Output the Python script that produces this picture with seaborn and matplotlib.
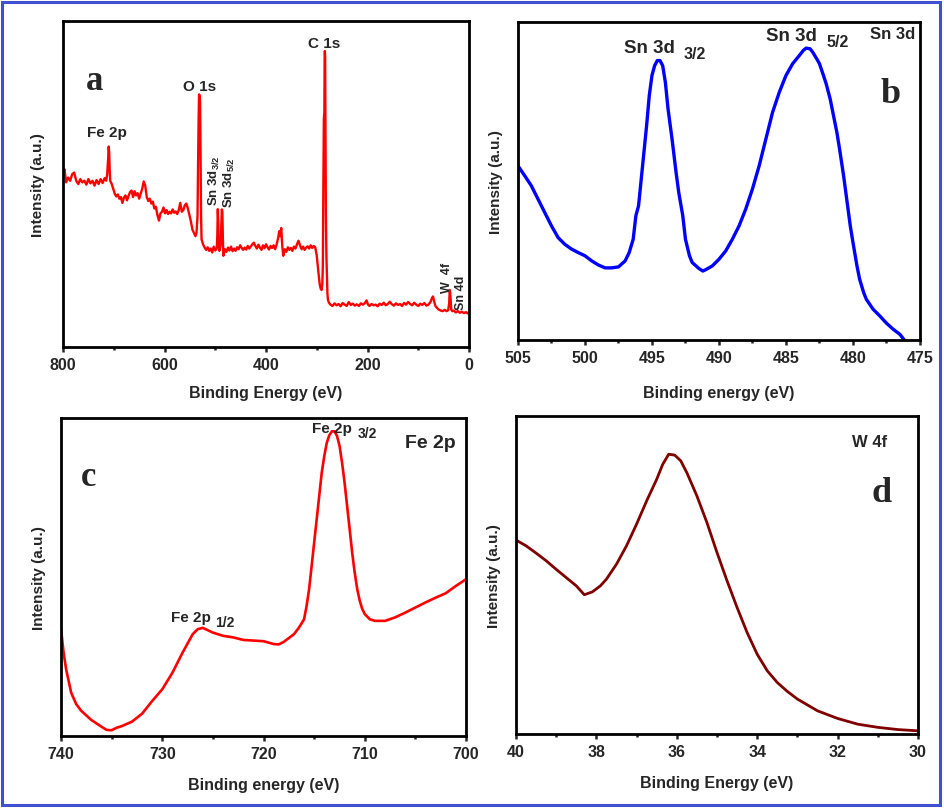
import numpy as np
import pandas as pd
import seaborn as sns
import matplotlib.pyplot as plt
from matplotlib.patches import Rectangle
from matplotlib.ticker import MultipleLocator

# ---- (a) survey spectrum, intensity in % of axis height ----
survey_be = ([800, 797, 794, 790, 786, 782, 778, 774, 770, 766, 762, 758, 754, 750, 746, 742, 738, 734, 730, 726, 722, 718, 715, 713]
             + [711, 710, 709, 708, 707]
             + [704, 701, 698, 695, 692, 689, 686, 683, 680, 677, 674, 671, 668, 665, 662, 659, 656, 653, 650, 647,
                644, 641, 638, 635, 632, 629, 626, 623, 620, 617, 614, 611, 608]
             + [605, 602, 599, 596, 593, 590, 587, 584, 581, 578, 575, 572, 569, 566, 563, 560, 557, 554, 551, 548]
             + [545, 542, 539, 537, 535, 534, 533]
             + [532, 531, 530, 529, 528, 527]
             + [524, 521, 518, 515, 512, 509, 506, 503, 500, 498]
             + [497, 496, 495, 494, 493, 492, 491, 490, 489, 488, 487, 486, 485, 484]
             + [481, 478, 475, 472, 469, 466, 463, 460, 457, 454, 451, 448, 445, 442, 439, 436, 433, 430, 427, 424,
                421, 418, 415, 412, 409, 406, 403, 400, 397, 394, 391, 388, 385, 382, 379]
             + [376, 374, 372, 370, 368, 366]
             + [363, 360, 357, 354, 351, 348, 345, 342, 339, 336, 333, 330, 327, 324, 321, 318, 315, 312, 309, 306, 303]
             + [300, 298, 296, 294, 292, 290.5, 289, 288, 287, 286, 285, 284.5, 284, 283.5, 283, 282, 281, 280, 279, 278, 276]
             + [273, 269, 265, 261, 257, 253, 249, 245, 241, 237, 233, 229, 225, 221, 217, 213, 209, 205, 202, 199,
                196, 192, 188, 184, 180, 176, 172, 168, 164, 160, 156, 152, 148, 144, 140, 136, 132, 128, 124, 120,
                116, 112, 108, 104, 100, 96, 92, 88, 84, 80, 76, 73, 71, 69, 66, 63, 60, 56, 52, 48,
                44, 41, 39, 38, 37, 35, 33, 30, 26, 22, 18, 14, 10, 6, 3, 0])
survey_int = ([52.5, 54.5, 50.5, 52.0, 51.0, 53.0, 53.5, 51.0, 50.0, 51.5, 50.5, 51.0, 49.8, 51.5, 50.2, 51.0, 49.5, 51.2, 50.0, 51.5, 50.3, 51.8, 51.0, 53.0]
              + [58.0, 61.5, 59.5, 54.0, 51.0]
              + [50.0, 48.5, 47.0, 46.2, 46.8, 45.5, 46.0, 44.2, 45.8, 46.5, 45.0, 46.3, 47.5, 48.0, 46.0, 47.8, 46.5, 47.2, 45.5, 47.0,
                 48.5, 50.8, 49.5, 46.0, 44.8, 45.5, 44.0, 44.6, 42.5, 43.0, 40.5, 38.8, 41.0]
              + [41.5, 42.8, 41.0, 42.0, 40.8, 41.5, 41.0, 42.2, 41.2, 41.6, 40.8, 42.0, 44.2, 41.5, 42.0, 43.5, 44.0, 42.5, 40.5, 38.5]
              + [36.0, 35.0, 34.0, 35.0, 40.0, 55.0, 68.0]
              + [77.5, 77.2, 75.0, 60.0, 40.0, 33.0]
              + [31.5, 30.5, 29.8, 30.6, 29.5, 30.2, 29.0, 30.8, 29.6, 30.0]
              + [30.5, 34.0, 42.3, 38.0, 31.0, 29.5, 30.2, 30.8, 32.0, 38.0, 42.2, 41.5, 33.0, 28.0]
              + [30.0, 29.2, 30.5, 29.6, 30.8, 29.4, 30.2, 29.5, 30.6, 30.0, 31.2, 30.4, 29.8, 30.5, 29.9, 31.0, 30.2, 30.8, 31.5, 32.0,
                 31.0, 30.2, 31.4, 30.5, 29.8, 31.2, 30.3, 31.5, 30.6, 29.9, 31.0, 30.4, 31.2, 30.0, 31.5]
              + [33.5, 35.5, 34.0, 36.5, 31.0, 28.0]
              + [30.0, 29.2, 30.6, 29.8, 30.4, 29.5, 30.8, 30.2, 31.5, 32.6, 31.2, 30.0, 30.8, 29.8, 30.5, 30.9, 30.2, 31.2, 30.4, 31.0, 30.6]
              + [28.0, 25.0, 21.8, 19.0, 17.8, 17.5, 19.5, 25.0, 50.0, 70.0, 72.0, 88.0, 90.8, 89.0, 70.0, 40.0, 28.0, 22.0, 16.5, 14.5, 13.6]
              + [13.0, 12.6, 13.4, 12.8, 13.2, 12.5, 13.5, 13.0, 12.6, 13.8, 12.9, 13.3, 12.7, 13.1, 12.6, 13.4, 13.0, 13.5, 14.3, 13.0,
                 12.6, 13.2, 12.8, 13.0, 12.5, 13.3, 12.9, 13.6, 12.8, 13.2, 13.9, 13.1, 12.7, 13.4, 12.9, 13.2, 12.6, 13.5, 13.0, 13.8,
                 13.2, 12.8, 13.6, 13.0, 12.6, 13.3, 12.9, 13.5, 12.7, 13.0, 13.8, 15.0, 15.5, 14.2, 12.5, 12.0, 11.5, 11.2, 11.0, 11.4,
                 11.0, 11.3, 13.5, 17.5, 16.5, 11.5, 11.0, 11.2, 10.6, 11.0, 10.5, 10.8, 10.4, 10.7, 10.3, 10.8])
assert len(survey_be) == len(survey_int)

# ---- (b) Sn 3d ----
sn_be = [505, 504.5, 504, 503.5, 503, 502.5, 502, 501.5, 501, 500.5,
         500, 499.5, 499, 498.5, 498, 497.5, 497, 496.7, 496.4, 496.2,
         496, 495.7, 495.4, 495.2, 495, 494.8, 494.6, 494.4, 494.2, 494,
         493.8, 493.5, 493.2, 493, 492.7, 492.5, 492.2, 492, 491.5, 491.2,
         491, 490.5, 490, 489.5, 489, 488.5, 488, 487.5, 487, 486.5,
         486, 485.5, 485, 484.5, 484, 483.7, 483.5, 483.2, 483, 482.7,
         482.5, 482.2, 482, 481.7, 481.5, 481.2, 481, 480.7, 480.5, 480.2,
         480, 479.7, 479.5, 479.2, 479, 478.5, 478, 477.5, 477, 476.5,
         476.2]
sn_int = [54.8, 51.7, 48.5, 44.3, 40.1, 35.9, 32.2, 30.1, 28.6, 27.5,
          26.5, 24.9, 23.6, 22.7, 22.7, 23.0, 24.9, 27.5, 31.7, 39.1,
          42.2, 54.8, 67.4, 76.9, 83.2, 86.3, 87.9, 87.9, 86.3, 81.1,
          72.7, 63.2, 52.7, 46.4, 39.1, 31.7, 26.5, 24.4, 22.5, 21.7,
          22.1, 23.3, 25.4, 28.0, 31.7, 35.9, 41.2, 47.5, 54.8, 63.2,
          71.6, 77.9, 83.2, 86.9, 89.5, 91.1, 91.8, 91.6, 90.5, 88.4,
          86.9, 83.2, 80.6, 75.8, 71.6, 65.3, 60.1, 51.7, 45.4, 35.9,
          30.7, 23.3, 19.1, 14.9, 12.8, 9.7, 7.6, 5.3, 3.4, 1.8,
          0.2]

# ---- (c) Fe 2p ----
fe_be = [740, 739.75, 739.5, 739, 738.5, 738, 737, 736, 735.5, 735,
         734.5, 734, 733, 732, 731, 730, 729, 728, 727, 726.5,
         726, 725, 724, 723, 722, 721, 720, 719, 718.5, 718,
         717, 716.5, 716, 715.75, 715.5, 715.25, 715, 714.75, 714.5, 714.25,
         714, 713.75, 713.5, 713.25, 713, 712.75, 712.5, 712.25, 712, 711.75,
         711.5, 711.25, 711, 710.75, 710.5, 710.25, 710, 709.5, 709, 708,
         707, 706, 705, 704, 703, 702, 701, 700]
fe_int = [33.6, 26.2, 21.0, 13.6, 10.0, 7.9, 5.0, 2.9, 1.9, 1.8,
          2.6, 3.1, 4.5, 7.0, 11.0, 14.7, 19.9, 26.2, 32.0, 33.6,
          34.0, 32.5, 31.5, 31.0, 30.2, 30.0, 29.8, 28.9, 28.8, 29.6,
          32.0, 34.1, 36.7, 40.9, 46.2, 53.5, 60.9, 68.2, 75.6, 82.9,
          88.1, 92.3, 94.6, 95.8, 95.8, 94.4, 91.3, 86.0, 79.7, 72.4,
          65.1, 57.7, 51.4, 46.2, 42.5, 39.9, 38.3, 36.7, 36.2, 36.2,
          37.3, 38.8, 40.4, 42.0, 43.5, 44.9, 47.2, 49.3]

# ---- (d) W 4f ----
w_be = [40, 39.75, 39.5, 39.25, 39, 38.75, 38.5, 38.3, 38.1, 37.9,
        37.75, 37.5, 37.25, 37, 36.75, 36.5, 36.35, 36.2, 36.05, 35.9,
        35.75, 35.5, 35.25, 35, 34.75, 34.5, 34.25, 34, 33.75, 33.5,
        33.25, 33, 32.5, 32, 31.5, 31, 30.5, 30]
w_int = [61.0, 59.2, 56.9, 54.5, 51.8, 49.2, 46.6, 43.8, 44.7, 46.6,
         48.7, 53.4, 59.2, 66.0, 73.3, 80.1, 84.8, 88.0, 87.7, 85.9,
         82.2, 74.9, 66.5, 57.1, 48.2, 39.8, 31.9, 25.1, 19.9, 16.2,
         13.4, 11.0, 7.3, 4.9, 3.1, 2.1, 1.4, 1.0]

sns.set_style("ticks")
plt.rcParams['font.family'] = ['Liberation Sans', 'DejaVu Sans']
plt.rcParams['font.weight'] = 'bold'
plt.rcParams['mathtext.fontset'] = 'custom'
plt.rcParams['mathtext.rm'] = 'Liberation Sans:bold'
plt.rcParams['mathtext.bf'] = 'Liberation Sans:bold'
plt.rcParams['mathtext.default'] = 'bf'

fig = plt.figure(figsize=(9.45, 8.12), dpi=100)
fig.patch.set_facecolor('white')

ax_a = fig.add_axes([0.0667, 0.5714, 0.4296, 0.4015])
ax_b = fig.add_axes([0.5481, 0.5800, 0.4254, 0.3916])
ax_c = fig.add_axes([0.0646, 0.0924, 0.4286, 0.3916])
ax_d = fig.add_axes([0.5460, 0.0948, 0.4254, 0.3916])

panels = [
    (ax_a, survey_be, survey_int, '#ff0000', 1.7, (800, 0), 200, 100, "Binding Energy (eV)", 9, 13),
    (ax_b, sn_be, sn_int, '#0000ff', 2.4, (505, 475), 5, 2.5, "Binding energy (eV)", 14, 11),
    (ax_c, fe_be, fe_int, '#ff0000', 1.9, (740, 700), 10, 5, "Binding energy (eV)", 11, 11),
    (ax_d, w_be, w_int, '#800000', 2.0, (40, 30), 2, 1, "Binding Energy (eV)", 11, 11),
]

for ax, xs, ys, col, lw, xl, maj, mnr, xlab, xpad, ypad in panels:
    df = pd.DataFrame({"be": xs, "inten": ys})
    sns.lineplot(data=df, x="be", y="inten", ax=ax, color=col, linewidth=lw, estimator=None)
    ax.set_xlim(*xl)
    ax.set_ylim(0, 100)
    ax.xaxis.set_major_locator(MultipleLocator(maj))
    ax.xaxis.set_minor_locator(MultipleLocator(mnr))
    ax.tick_params(axis='x', which='major', direction='out', length=3.5, width=1.8,
                   labelsize=11.5, pad=4)
    ax.tick_params(axis='x', which='minor', direction='out', length=2, width=1.8)
    ax.tick_params(axis='y', left=False, labelleft=False)
    for lab in ax.get_xticklabels():
        lab.set_fontweight('bold')
    for sp in ax.spines.values():
        sp.set_linewidth(2.0)
        sp.set_color('black')
    ax.set_xlabel(xlab, fontsize=11.5, fontweight='bold', labelpad=xpad)
    ax.set_ylabel("Intensity (a.u.)", fontsize=11, fontweight='bold', labelpad=ypad)

serif = ['Liberation Serif', 'DejaVu Serif']

# (a) annotations
ax_a.text(737, 81.6, "a", family=serif, fontsize=25, fontweight='bold', ha='center', va='center')
ax_a.text(714, 66, "Fe 2p", fontsize=11, fontweight='bold', ha='center', va='center')
ax_a.text(531, 80, "O 1s", fontsize=11, fontweight='bold', ha='center', va='center')
ax_a.text(286, 93.2, "C 1s", fontsize=11, fontweight='bold', ha='center', va='center')
ax_a.text(502, 43.5, r"Sn 3d$_{3/2}$", fontsize=9.5, rotation=90, ha='center', va='bottom')
ax_a.text(472, 43.0, r"Sn 3d$_{5/2}$", fontsize=9.5, rotation=90, ha='center', va='bottom')
ax_a.text(44, 17.0, "W  4f", fontsize=9, fontweight='bold', rotation=90, ha='center', va='bottom')
ax_a.text(16, 11.8, "Sn 4d", fontsize=9, fontweight='bold', rotation=90, ha='center', va='bottom')

# (b) annotations
ax_b.text(495.2, 92.1, "Sn 3d", fontsize=13.5, fontweight='bold', ha='center', va='center')
ax_b.text(491.8, 90.0, "3/2", fontsize=11.5, fontweight='bold', ha='center', va='center')
ax_b.text(484.6, 95.8, "Sn 3d", fontsize=13.5, fontweight='bold', ha='center', va='center')
ax_b.text(481.15, 93.9, "5/2", fontsize=11.5, fontweight='bold', ha='center', va='center')
ax_b.text(477.05, 96.3, "Sn 3d", fontsize=12, fontweight='bold', ha='center', va='center')
ax_b.text(477.2, 77.5, "b", family=serif, fontsize=26, fontweight='bold', ha='center', va='center')

# (c) annotations
ax_c.text(713.2, 96.8, "Fe 2p", fontsize=11, fontweight='bold', ha='center', va='center')
ax_c.text(709.8, 95.2, "3/2", fontsize=10, fontweight='bold', ha='center', va='center')
ax_c.text(703.5, 92.3, "Fe 2p", fontsize=14, fontweight='bold', ha='center', va='center')
ax_c.text(737.3, 81.5, "c", family=serif, fontsize=25, fontweight='bold', ha='center', va='center')
ax_c.text(727.2, 37.3, "Fe 2p", fontsize=11, fontweight='bold', ha='center', va='center')
ax_c.text(723.8, 35.7, "1/2", fontsize=10, fontweight='bold', ha='center', va='center')

# (d) annotations
ax_d.text(31.2, 92.1, "W 4f", fontsize=12, fontweight='bold', ha='center', va='center')
ax_d.text(30.9, 76.0, "d", family=serif, fontsize=26, fontweight='bold', ha='center', va='center')

# blue frame around the whole figure
fig.patches.append(Rectangle((2.5 / 945, (812 - 805.5) / 812), 938 / 945, 803 / 812,
                             transform=fig.transFigure, fill=False, edgecolor='#4050d0',
                             linewidth=2.2, zorder=10))

fig.savefig("out.png", dpi=100)
